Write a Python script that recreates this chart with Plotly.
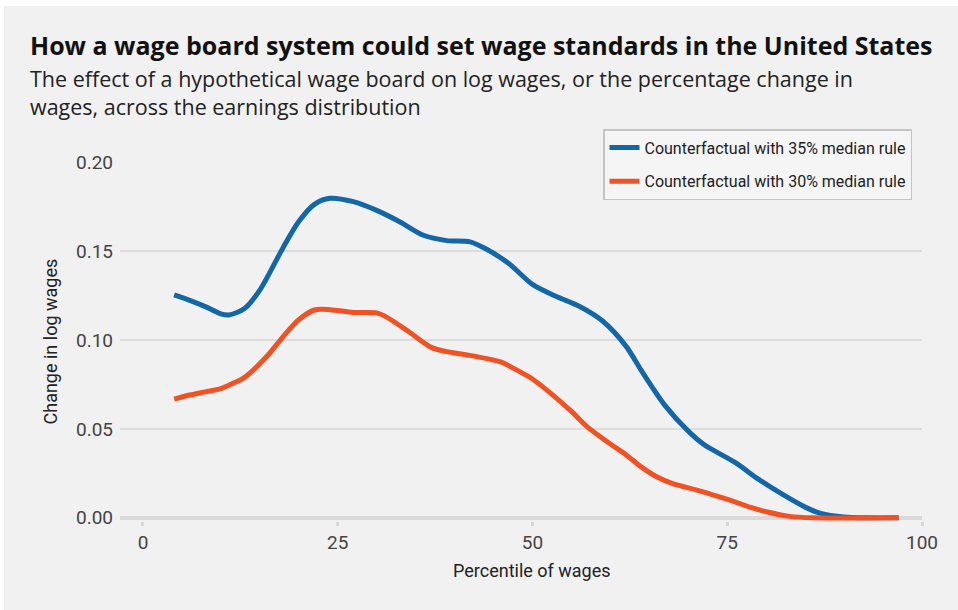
import plotly.graph_objects as go

# ---- data ----
pct_35 = [4, 6, 8, 10, 11, 13, 15, 18, 20, 22, 24, 27, 30, 33, 36, 39, 42, 44, 47, 50,
          53, 56, 59, 62, 64, 67, 70, 72, 76, 79, 82, 85, 87, 90, 93, 97]
val_35 = [0.1253, 0.1222, 0.1187, 0.1146, 0.1140, 0.1175, 0.1280, 0.1520, 0.1665, 0.1762,
          0.1796, 0.1777, 0.1728, 0.1663, 0.1588, 0.1558, 0.1551, 0.1512, 0.1428, 0.1312,
          0.1245, 0.1189, 0.1106, 0.0965, 0.0826, 0.0632, 0.0487, 0.0412, 0.0311, 0.0217,
          0.0134, 0.0060, 0.0025, 0.0005, 0.0000, 0.0000]

pct_30 = [4, 6, 8, 10, 12, 13, 16, 18, 20, 22, 24, 27, 30, 31, 34, 37, 39, 42, 46, 48,
          50, 52, 55, 57, 60, 62, 64, 66, 68, 71, 74, 76, 78, 80, 83, 86, 97]
val_30 = [0.0667, 0.0690, 0.0708, 0.0726, 0.0765, 0.0788, 0.0912, 0.1019, 0.1113, 0.1168,
          0.1170, 0.1154, 0.1152, 0.1135, 0.1050, 0.0958, 0.0934, 0.0913, 0.0875, 0.0830,
          0.0780, 0.0712, 0.0598, 0.0513, 0.0415, 0.0355, 0.0285, 0.0229, 0.0192, 0.0157,
          0.0118, 0.0090, 0.0058, 0.0034, 0.0008, 0.0000, 0.0000]

x_ticks = [0, 25, 50, 75, 100]
y_ticks = [0.00, 0.05, 0.10, 0.15, 0.20]
y_tick_labels = ["0.00", "0.05", "0.10", "0.15", "0.20"]

names = ["Counterfactual with 35% median rule", "Counterfactual with 30% median rule"]
colors = ["#1467a6", "#f05224"]

title = "How a wage board system could set wage standards in the United States"
subtitle = ("The effect of a hypothetical wage board on log wages, or the percentage change in"
            "<br>wages, across the earnings distribution")

FONT = "Roboto"
HEAD_FONT = "Open Sans"

L, R, T, B = 120, 36, 162, 89
PW, PH = 958 - L - R, 610 - T - B


def px_x(p):
    return (p - L) / PW


def px_y(p):
    return (610 - B - p) / PH


fig = go.Figure()
for i, (xs, ys) in enumerate([(pct_35, val_35), (pct_30, val_30)]):
    fig.add_trace(go.Scatter(
        x=xs, y=ys, mode="lines", name=names[i], legendgroup=f"g{i}",
        line=dict(color=colors[i], width=5, shape="spline", smoothing=0.8),
        hoverinfo="skip",
    ))

fig.update_layout(
    width=958, height=610,
    margin=dict(l=L, r=R, t=T, b=B),
    paper_bgcolor="#ffffff",
    plot_bgcolor="rgba(0,0,0,0)",
    font=dict(family=FONT, color="#222222"),
    showlegend=True,
    legend=dict(
        x=px_x(603), y=px_y(129), xanchor="left", yanchor="top",
        bgcolor="#f5f5f5", bordercolor="#c4c4c4", borderwidth=1.5,
        font=dict(size=16, color="#222222", family=FONT),
        tracegroupgap=10, traceorder="grouped", itemwidth=30,
    ),
    xaxis=dict(
        range=[-2.95, 100], tickvals=x_ticks, ticktext=[str(v) for v in x_ticks],
        showgrid=False, zeroline=False, showline=False,
        ticks="outside", ticklen=4, tickwidth=3, tickcolor="#d6d6d6",
        tickfont=dict(size=19, color="#444444", family=FONT),
    ),
    yaxis=dict(
        range=[-0.0018, 0.2], tickvals=y_ticks, ticktext=y_tick_labels,
        showgrid=True, gridcolor="#dcdcdc", gridwidth=1.5,
        zeroline=True, zerolinecolor="#d9d9d9", zerolinewidth=3.5,
        showline=False, ticks="", ticklabelstandoff=6,
        tickfont=dict(size=19, color="#444444", family=FONT),
    ),
    shapes=[dict(type="rect", xref="paper", yref="paper", layer="below",
                 x0=px_x(4), x1=px_x(958), y0=px_y(610), y1=px_y(6),
                 fillcolor="#f1f1f1", line=dict(width=0))],
    annotations=[
        dict(text=f"<b>{title}</b>", xref="paper", yref="paper",
             x=px_x(28), y=px_y(45), xanchor="left", yanchor="middle",
             showarrow=False, font=dict(size=25, color="#111111", family=HEAD_FONT)),
        dict(text=subtitle, xref="paper", yref="paper", align="left",
             x=px_x(28), y=px_y(92), xanchor="left", yanchor="middle",
             showarrow=False, font=dict(size=21.5, color="#222222", family=HEAD_FONT)),
        dict(text="Change in log wages", xref="paper", yref="paper",
             x=px_x(50), y=0.5, xanchor="center", yanchor="middle",
             textangle=-90, showarrow=False, font=dict(size=18, color="#222222", family=FONT)),
        dict(text="Percentile of wages", xref="x", yref="paper",
             x=50, y=px_y(570), xanchor="center", yanchor="middle",
             showarrow=False, font=dict(size=18, color="#222222", family=FONT)),
    ],
)

fig.write_html("out.html", config={"displayModeBar": False},
               post_script="document.body.style.margin='0';")
